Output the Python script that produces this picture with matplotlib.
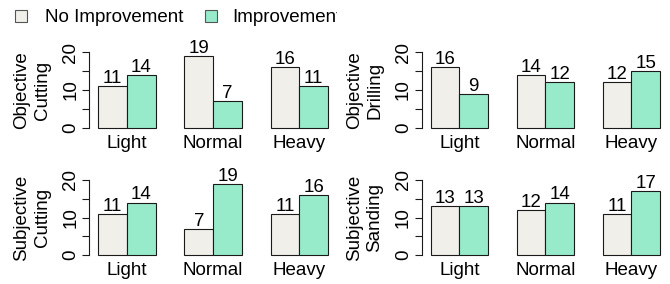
import matplotlib
matplotlib.use('Agg')
import matplotlib.pyplot as plt
from matplotlib.patches import Rectangle

categories = ["Light", "Normal", "Heavy"]
series_names = ["No Improvement", "Improvement"]
panel_titles = ["Objective\nCutting", "Objective\nDrilling",
                "Subjective\nCutting", "Subjective\nSanding"]
obj_cut_no = [11, 19, 16]
obj_cut_imp = [14, 7, 11]
obj_drill_no = [16, 14, 12]
obj_drill_imp = [9, 12, 15]
subj_cut_no = [11, 7, 11]
subj_cut_imp = [14, 19, 16]
subj_sand_no = [13, 12, 11]
subj_sand_imp = [13, 14, 17]
y_ticks = [0, 5, 10, 15, 20]
y_tick_labels = ["0", "", "10", "", "20"]

COL_NO = "#F0EFEA"
COL_IMP = "#97EBCB"
EDGE = "#1a1a1a"

plt.rcParams['font.family'] = ['Liberation Sans', 'DejaVu Sans']
FS = 13.5
W, H = 670, 284
fig = plt.figure(figsize=(W / 100, H / 100), dpi=100)


def px_axes(x0, x1, ytop, ybot):
    return fig.add_axes([x0 / W, 1 - ybot / H, (x1 - x0) / W, (ybot - ytop) / H])


# (x_left, x_right, pixel of y=0, pixel of y=20)
layout = [
    (89.1, 337.2, 128.0, 52.0),
    (421.5, 669.2, 128.0, 52.0),
    (89.1, 337.2, 255.0, 180.0),
    (421.5, 669.2, 255.0, 180.0),
]
data = [
    (obj_cut_no, obj_cut_imp),
    (obj_drill_no, obj_drill_imp),
    (subj_cut_no, subj_cut_imp),
    (subj_sand_no, subj_sand_imp),
]

for (x0, x1, p0, p20), (no, imp), title in zip(layout, data, panel_titles):
    u = (p0 - p20) / 20.0
    ax = px_axes(x0, x1, p20 - 0.8 * u, p0 + 0.8 * u)
    ax.set_xlim(0.68, 9.32)
    ax.set_ylim(-0.8, 20.8)
    pos_no = [3 * i + 1.5 for i in range(len(categories))]
    pos_imp = [3 * i + 2.5 for i in range(len(categories))]
    ax.bar(pos_no, no, width=1.0, color=COL_NO, edgecolor=EDGE, linewidth=0.8)
    ax.bar(pos_imp, imp, width=1.0, color=COL_IMP, edgecolor=EDGE, linewidth=0.8)
    for x, v in list(zip(pos_no, no)) + list(zip(pos_imp, imp)):
        ax.annotate(str(v), (x, v), xytext=(0, 2.2), textcoords='offset points',
                    ha='center', va='baseline', fontsize=FS, annotation_clip=False)
    for i, c in enumerate(categories):
        ax.annotate(c, (3 * i + 2, 0), xytext=(0, -14.4), textcoords='offset points',
                    ha='center', va='baseline', fontsize=FS, annotation_clip=False)
    for s in ['top', 'right', 'bottom']:
        ax.spines[s].set_visible(False)
    ax.spines['left'].set_bounds(0, 20)
    ax.spines['left'].set_linewidth(0.8)
    ax.spines['left'].set_color(EDGE)
    ax.set_xticks([])
    ax.set_yticks(y_ticks)
    ax.set_yticklabels(y_tick_labels, rotation=90, va='center', fontsize=FS)
    ax.tick_params(axis='y', length=5, width=0.8, color=EDGE, pad=2)
    ax.patch.set_visible(False)
    ax.annotate(title, xy=(0, 10), xycoords=('axes fraction', 'data'),
                xytext=(-57 * 0.72, 0), textcoords='offset points',
                rotation=90, ha='center', va='center', multialignment='center',
                fontsize=FS, linespacing=1.25, annotation_clip=False)

# legend, clipped to the left column like the original
leg = px_axes(0, 336.5, 0, 32)
leg.set_xlim(0, 336.5)
leg.set_ylim(32, 0)
leg.axis('off')
for xs, xt, name, col in [(15, 45, series_names[0], COL_NO), (205, 232, series_names[1], COL_IMP)]:
    leg.add_patch(Rectangle((xs, 10), 12, 11.5, facecolor=col, edgecolor='#555555',
                            linewidth=0.8, clip_on=True))
    leg.text(xt, 21.5, name, ha='left', va='baseline', fontsize=FS, clip_on=True)

fig.savefig('out.png', dpi=100)
